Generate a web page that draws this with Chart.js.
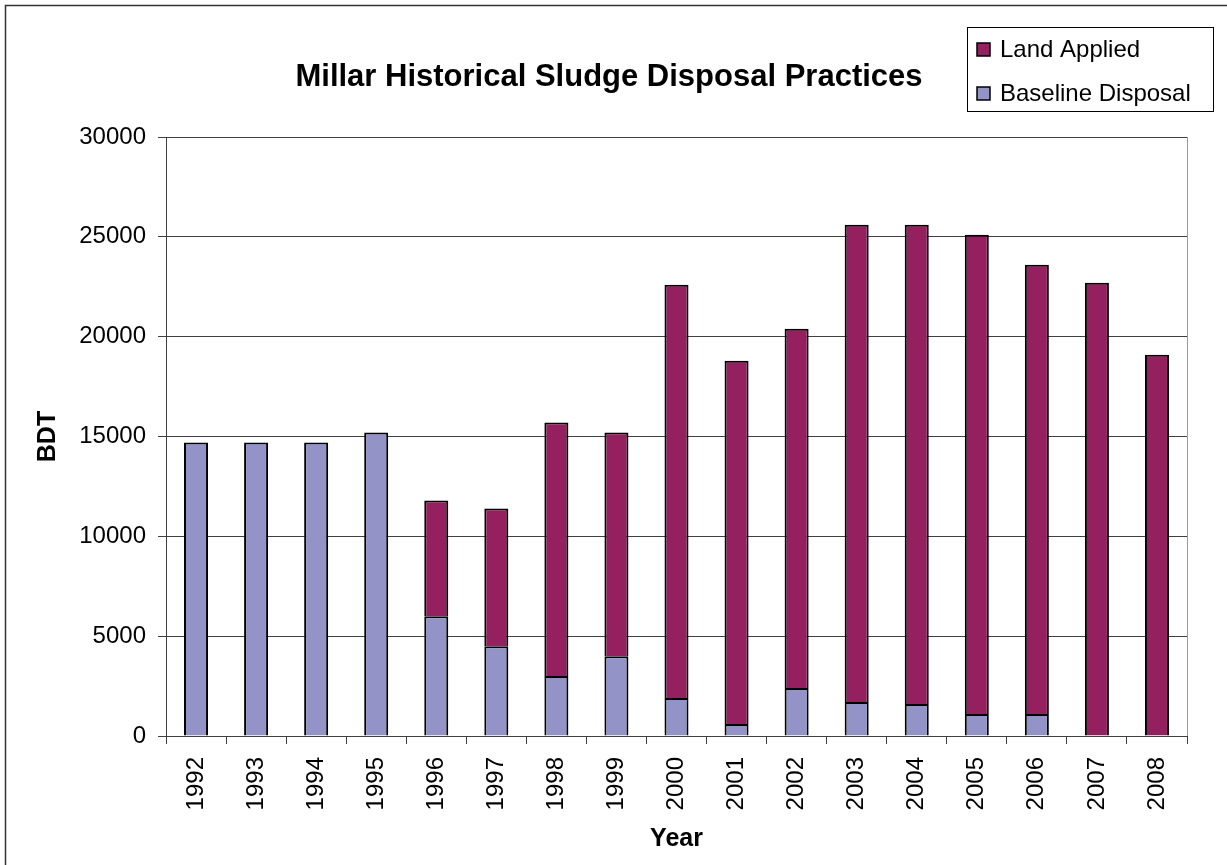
<!DOCTYPE html>
<html>
<head>
<meta charset="utf-8">
<script src="https://cdn.jsdelivr.net/npm/chart.js@4/dist/chart.umd.min.js"></script>
<style>
  html, body { margin: 0; padding: 0; background: #ffffff; }
  #wrap { width: 1227px; height: 865px; position: relative; }
  canvas { display: block; }
</style>
</head>
<body>
<div id="wrap"><canvas id="c" width="1227" height="865"></canvas></div>
<script>
const years = ['1992','1993','1994','1995','1996','1997','1998','1999','2000','2001','2002','2003','2004','2005','2006','2007','2008'];
const baselineDisposal = [14700,14700,14700,15200,6000,4500,3000,4000,1900,600,2400,1700,1600,1100,1100,0,0];
const landApplied = [0,0,0,0,5800,6900,12700,11200,20700,18200,18000,23900,24000,24000,22500,22700,19100];
const yMin = 0, yMax = 30000, yStep = 5000;
const titleText = 'Millar Historical Sludge Disposal Practices';
const xTitle = 'Year';
const yTitle = 'BDT';

const FONT = '"Liberation Sans", Arial, sans-serif';
const colBaseline = '#9393C7';
const colLand = '#952060';

const decor = {
  id: 'decor',
  beforeDraw(chart) {
    const ctx = chart.ctx;
    ctx.save();
    ctx.fillStyle = '#ffffff';
    ctx.fillRect(0, 0, chart.width, chart.height);
    ctx.restore();
  },
  afterDraw(chart) {
    const ctx = chart.ctx;
    const ca = chart.chartArea;
    ctx.save();
    // outer frame (left and top visible)
    ctx.strokeStyle = '#333333';
    ctx.lineWidth = 1.5;
    ctx.beginPath();
    ctx.moveTo(5.5, chart.height + 2);
    ctx.lineTo(5.5, 5.5);
    ctx.lineTo(chart.width + 2, 5.5);
    ctx.stroke();
    // plot-area right edge
    ctx.strokeStyle = '#9a9a9a';
    ctx.lineWidth = 1;
    ctx.beginPath();
    ctx.moveTo(Math.round(ca.right) + 0.5, ca.top);
    ctx.lineTo(Math.round(ca.right) + 0.5, ca.bottom);
    ctx.stroke();
    // title
    ctx.fillStyle = '#000';
    ctx.font = 'bold 31px ' + FONT;
    ctx.textAlign = 'center';
    ctx.textBaseline = 'middle';
    ctx.fillText(titleText, 609, 77);
    // axis titles
    ctx.font = 'bold 25px ' + FONT;
    ctx.fillText(xTitle, (ca.left + ca.right) / 2, 839);
    ctx.save();
    ctx.translate(48, (ca.top + ca.bottom) / 2);
    ctx.rotate(-Math.PI / 2);
    ctx.fillText(yTitle, 0, 0);
    ctx.restore();
    // legend
    ctx.strokeStyle = '#000';
    ctx.lineWidth = 1;
    ctx.strokeRect(967.5, 27.5, 246, 84);
    const items = [chart.data.datasets[1], chart.data.datasets[0]];
    const rows = [49, 93];
    ctx.font = '24px ' + FONT;
    ctx.textAlign = 'left';
    items.forEach((ds, i) => {
      const y = rows[i];
      ctx.fillStyle = ds.backgroundColor;
      ctx.fillRect(977, y - 6, 13, 13);
      ctx.strokeStyle = '#000';
      ctx.lineWidth = 1.5;
      ctx.strokeRect(977, y - 6, 13, 13);
      ctx.fillStyle = '#000';
      ctx.fillText(ds.label, 1000, y + 1);
    });
    ctx.restore();
  }
};

new Chart(document.getElementById('c'), {
  type: 'bar',
  data: {
    labels: years,
    datasets: [
      { label: 'Baseline Disposal', data: baselineDisposal, backgroundColor: colBaseline,
        borderColor: '#000', borderWidth: 2, categoryPercentage: 1.0, barPercentage: 0.4 },
      { label: 'Land Applied', data: landApplied, backgroundColor: colLand,
        borderColor: '#000', borderWidth: 2, categoryPercentage: 1.0, barPercentage: 0.4 }
    ]
  },
  options: {
    responsive: false,
    animation: false,
    layout: { padding: { top: 137, right: 40, left: 0, bottom: 0 } },
    plugins: {
      legend: { display: false },
      title: { display: false },
      tooltip: { enabled: false }
    },
    scales: {
      x: {
        stacked: true,
        offset: true,
        grid: { display: true, drawOnChartArea: false, offset: true, tickLength: 8, color: '#404040' },
        border: { color: '#404040', width: 1 },
        ticks: { color: '#000', font: { family: FONT, size: 24 }, minRotation: 90, maxRotation: 90, padding: 13, autoSkip: false },
        afterFit(scale) { scale.height = 129; }
      },
      y: {
        stacked: true,
        min: yMin, max: yMax,
        grid: { color: '#404040', tickLength: 8, lineWidth: 1 },
        border: { color: '#404040', width: 1 },
        ticks: { stepSize: yStep, color: '#000', font: { family: FONT, size: 24 }, padding: 12,
                 callback: (v) => String(v) },
        afterFit(scale) { scale.width = 166; }
      }
    }
  },
  plugins: [decor]
});
</script>
</body>
</html>
